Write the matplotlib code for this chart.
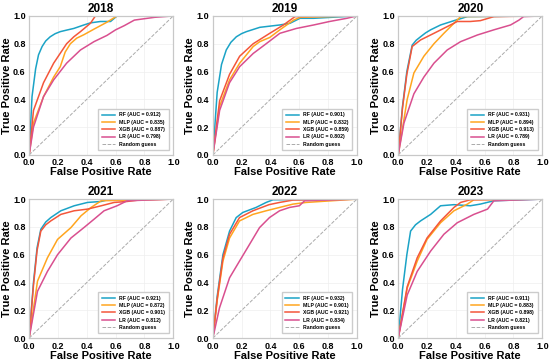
import matplotlib
matplotlib.use("Agg")
import matplotlib.pyplot as plt

plt.rcParams['font.family'] = ['Liberation Sans', 'DejaVu Sans']
plt.rcParams['font.weight'] = 'bold'

years = ['2018', '2019', '2020', '2021', '2022', '2023']
models = ['RF', 'MLP', 'XGB', 'LR']
colors = ['#1ba3c6', '#ffa51f', '#f4563a', '#d94f8f']

auc = {
    '2018': [0.912, 0.835, 0.887, 0.798],
    '2019': [0.901, 0.832, 0.859, 0.802],
    '2020': [0.931, 0.894, 0.913, 0.789],
    '2021': [0.921, 0.872, 0.901, 0.812],
    '2022': [0.932, 0.901, 0.921, 0.834],
    '2023': [0.911, 0.883, 0.898, 0.821],
}

# ROC points: (fpr list, tpr list) per model
roc = {
    '2018': {
        'RF': ([0, 0.02, 0.045, 0.065, 0.09, 0.115, 0.146, 0.18, 0.216, 0.26, 0.31, 0.38, 0.425, 0.495, 0.565, 0.61, 1.0],
               [0, 0.42, 0.62, 0.72, 0.78, 0.82, 0.85, 0.872, 0.887, 0.898, 0.91, 0.935, 0.95, 0.96, 0.96, 1.0, 1.0]),
        'MLP': ([0, 0.03, 0.1, 0.17, 0.216, 0.25, 0.286, 0.33, 0.38, 0.45, 0.54, 0.61, 1.0],
                [0, 0.23, 0.42, 0.56, 0.635, 0.74, 0.80, 0.84, 0.865, 0.905, 0.955, 1.0, 1.0]),
        'XGB': ([0, 0.03, 0.1, 0.17, 0.26, 0.31, 0.356, 0.425, 0.46, 1.0],
                [0, 0.32, 0.52, 0.66, 0.80, 0.85, 0.887, 0.947, 1.0, 1.0]),
        'LR': ([0, 0.03, 0.1, 0.17, 0.26, 0.356, 0.45, 0.54, 0.6, 0.66, 0.73, 0.87, 1.0],
               [0, 0.20, 0.42, 0.54, 0.66, 0.755, 0.815, 0.86, 0.9, 0.93, 0.97, 0.99, 1.0]),
    },
    '2019': {
        'RF': ([0, 0.03, 0.06, 0.093, 0.125, 0.163, 0.2, 0.233, 0.326, 0.465, 0.535, 0.605, 0.7, 1.0],
               [0, 0.45, 0.65, 0.755, 0.81, 0.85, 0.873, 0.887, 0.918, 0.935, 0.947, 0.983, 0.983, 1.0]),
        'MLP': ([0, 0.047, 0.116, 0.186, 0.28, 0.326, 0.36, 0.395, 0.465, 0.56, 0.605, 1.0],
                [0, 0.35, 0.54, 0.66, 0.78, 0.815, 0.83, 0.845, 0.9, 0.97, 0.99, 1.0]),
        'XGB': ([0, 0.047, 0.116, 0.186, 0.28, 0.395, 0.49, 0.57, 1.0],
                [0, 0.39, 0.58, 0.71, 0.80, 0.875, 0.935, 0.995, 1.0]),
        'LR': ([0, 0.047, 0.116, 0.186, 0.28, 0.37, 0.465, 0.58, 0.7, 0.81, 0.93, 1.0],
               [0, 0.32, 0.52, 0.635, 0.73, 0.80, 0.875, 0.91, 0.935, 0.96, 0.983, 1.0]),
    },
    '2020': {
        'RF': ([0, 0.03, 0.06, 0.097, 0.125, 0.155, 0.19, 0.225, 0.294, 0.387, 0.48, 1.0],
               [0, 0.35, 0.6, 0.79, 0.825, 0.85, 0.878, 0.9, 0.935, 0.966, 0.995, 1.0]),
        'MLP': ([0, 0.0625, 0.109, 0.178, 0.248, 0.317, 0.387, 0.433, 1.0],
                [0, 0.40, 0.59, 0.71, 0.80, 0.875, 0.947, 0.995, 1.0]),
        'XGB': ([0, 0.03, 0.06, 0.097, 0.155, 0.248, 0.34, 0.41, 0.50, 0.57, 0.664, 1.0],
                [0, 0.34, 0.58, 0.78, 0.827, 0.875, 0.923, 0.96, 0.96, 0.966, 0.995, 1.0]),
        'LR': ([0, 0.04, 0.109, 0.178, 0.248, 0.34, 0.433, 0.55, 0.664, 0.78, 0.838, 0.87, 1.0],
               [0, 0.23, 0.44, 0.56, 0.66, 0.755, 0.815, 0.863, 0.9, 0.935, 0.97, 0.995, 1.0]),
    },
    '2021': {
        'RF': ([0, 0.03, 0.055, 0.081, 0.115, 0.15, 0.22, 0.3125, 0.405, 0.5, 0.544, 1.0],
               [0, 0.4, 0.65, 0.783, 0.835, 0.867, 0.916, 0.952, 0.976, 0.983, 0.995, 1.0]),
        'MLP': ([0, 0.058, 0.127, 0.197, 0.29, 0.36, 0.43, 0.5, 1.0],
                [0, 0.41, 0.578, 0.71, 0.795, 0.88, 0.94, 0.988, 1.0]),
        'XGB': ([0, 0.03, 0.055, 0.081, 0.115, 0.15, 0.22, 0.3125, 0.405, 0.5, 0.59, 0.68, 0.775, 1.0],
                [0, 0.38, 0.63, 0.77, 0.815, 0.843, 0.89, 0.916, 0.928, 0.952, 0.976, 0.983, 0.995, 1.0]),
        'LR': ([0, 0.058, 0.127, 0.197, 0.29, 0.38, 0.45, 0.52, 0.61, 0.68, 1.0],
               [0, 0.337, 0.48, 0.60, 0.72, 0.795, 0.855, 0.916, 0.952, 0.988, 1.0]),
    },
    '2022': {
        'RF': ([0, 0.03, 0.07, 0.116, 0.162, 0.208, 0.30, 0.37, 0.417, 1.0],
               [0, 0.3, 0.60, 0.77, 0.867, 0.904, 0.94, 0.976, 0.995, 1.0]),
        'MLP': ([0, 0.03, 0.07, 0.116, 0.185, 0.278, 0.37, 0.463, 0.556, 0.648, 1.0],
                [0, 0.27, 0.554, 0.72, 0.843, 0.89, 0.916, 0.94, 0.964, 0.976, 1.0]),
        'XGB': ([0, 0.03, 0.07, 0.116, 0.185, 0.278, 0.39, 0.463, 0.556, 1.0],
                [0, 0.28, 0.578, 0.747, 0.867, 0.916, 0.96, 0.976, 0.993, 1.0]),
        'LR': ([0, 0.046, 0.116, 0.185, 0.255, 0.324, 0.393, 0.463, 0.532, 0.60, 0.637, 1.0],
               [0, 0.217, 0.434, 0.554, 0.675, 0.795, 0.867, 0.916, 0.94, 0.952, 0.988, 1.0]),
    },
    '2023': {
        'RF': ([0, 0.03, 0.06, 0.086, 0.12, 0.155, 0.225, 0.294, 0.387, 0.50, 0.57, 0.664, 1.0],
               [0, 0.35, 0.6, 0.77, 0.815, 0.843, 0.89, 0.952, 0.96, 0.952, 0.964, 0.988, 1.0]),
        'MLP': ([0, 0.0625, 0.132, 0.2, 0.294, 0.387, 0.48, 0.525, 1.0],
                [0, 0.36, 0.554, 0.71, 0.83, 0.916, 0.964, 0.995, 1.0]),
        'XGB': ([0, 0.0625, 0.132, 0.2, 0.294, 0.387, 0.433, 0.50, 1.0],
                [0, 0.37, 0.578, 0.72, 0.843, 0.94, 0.976, 0.995, 1.0]),
        'LR': ([0, 0.0625, 0.132, 0.225, 0.317, 0.41, 0.525, 0.62, 0.664, 1.0],
               [0, 0.31, 0.48, 0.626, 0.747, 0.83, 0.89, 0.928, 0.988, 1.0]),
    },
}

fig = plt.figure(figsize=(5.5, 3.62), dpi=100)

lefts = [0.053, 0.387, 0.724]
bottoms = [0.572, 0.066]
w, h = 0.262, 0.384

for i, year in enumerate(years):
    ax = fig.add_axes([lefts[i % 3], bottoms[i // 3], w, h])
    for m, c, a in zip(models, colors, auc[year]):
        fpr, tpr = roc[year][m]
        ax.plot(fpr, tpr, color=c, lw=1.1, label=f'{m} (AUC = {a:.3f})')
    ax.plot([0, 1], [0, 1], color='#aaaaaa', lw=0.7, ls='--', label='Random guess')
    ax.set_xlim(0, 1)
    ax.set_ylim(0, 1)
    ax.set_xticks([0, 0.2, 0.4, 0.6, 0.8, 1.0])
    ax.set_yticks([0, 0.2, 0.4, 0.6, 0.8, 1.0])
    ax.tick_params(labelsize=6.5, length=0, pad=2.5)
    for t in ax.get_xticklabels() + ax.get_yticklabels():
        t.set_fontweight('bold')
    ax.grid(color='#eeeeee', lw=0.5)
    for s in ax.spines.values():
        s.set_color('#c8c8c8')
        s.set_linewidth(0.9)
    ax.set_title(year, fontsize=8.5, fontweight='bold', pad=3)
    ax.set_xlabel('False Positive Rate', fontsize=8, fontweight='bold', labelpad=0)
    ax.set_ylabel('True Positive Rate', fontsize=8, fontweight='bold', labelpad=1)
    ax.legend(loc='lower right', prop={'weight': 'bold', 'size': 3.7},
              handlelength=2.6, borderpad=0.7, labelspacing=0.45, framealpha=1,
              edgecolor='#cccccc', fancybox=False, borderaxespad=0.9)

fig.savefig('out.png', dpi=100)
